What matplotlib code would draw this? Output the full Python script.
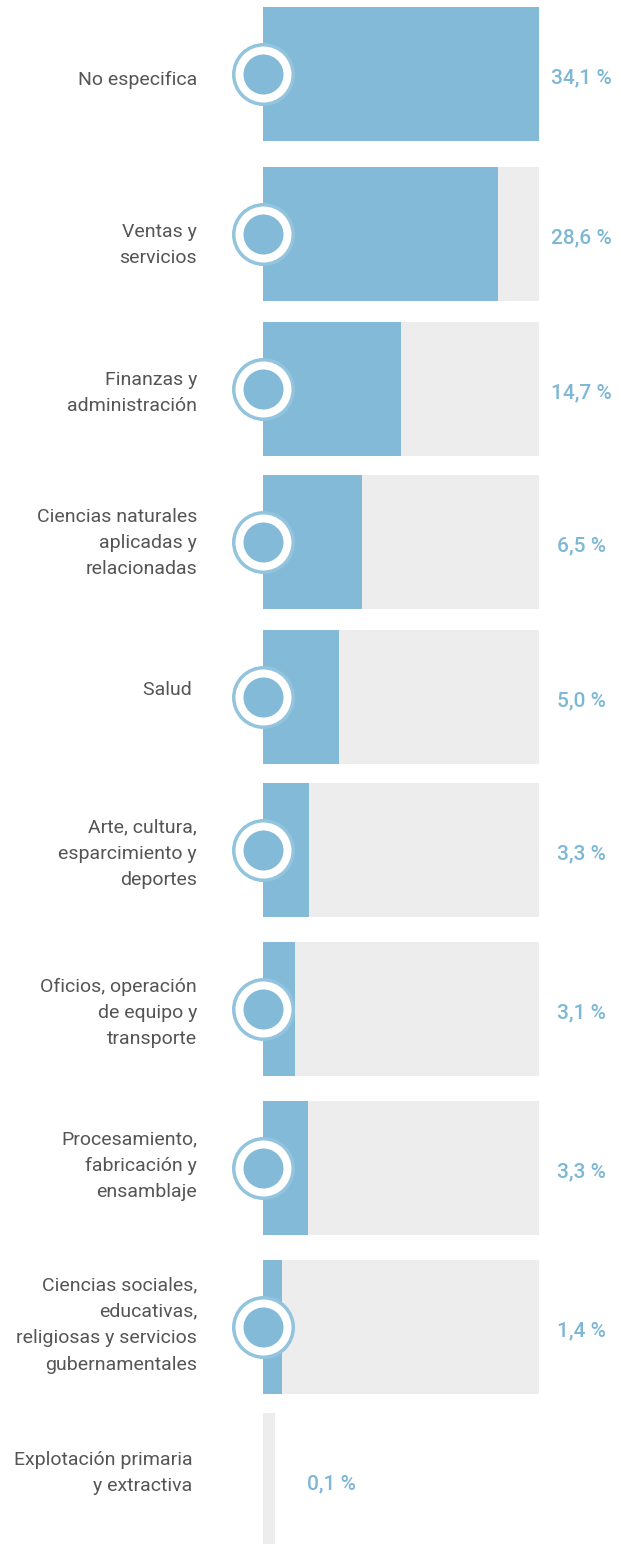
import matplotlib
matplotlib.use('Agg')
import matplotlib.pyplot as plt

plt.rcParams['font.family'] = ['Roboto', 'DejaVu Sans']

categories = [
    "No especifica",
    "Ventas y\nservicios",
    "Finanzas y\nadministración",
    "Ciencias naturales\naplicadas y\nrelacionadas",
    "Salud ",
    "Arte, cultura,\nesparcimiento y\ndeportes",
    "Oficios, operación\nde equipo y\ntransporte",
    "Procesamiento,\nfabricación y\nensamblaje",
    "Ciencias sociales,\neducativas,\nreligiosas y servicios\ngubernamentales",
    "Explotación primaria \ny extractiva ",
]
# printed percentages
pct_labels = [34.1, 28.6, 14.7, 6.5, 5.0, 3.3, 3.1, 3.3, 1.4, 0.1]
# bar fill lengths as drawn (same units as the track)
bar_fill = [34.1, 29.0, 17.05, 12.2, 9.4, 5.7, 3.95, 5.55, 2.35, 0.0]
# grey track lengths
track_len = [34.1, 34.1, 34.1, 34.1, 34.1, 34.1, 34.1, 34.1, 34.1, 1.48]

# layout (pixel rows, top edge of each bar) and label nudges
row_top = [7, 167, 322, 475, 630, 783, 942, 1101, 1260, 1413]
label_dy = [6, 11, 4, 1, -7, 4, 4, -2, -2, -7]
bar_h = 134

blue = '#82bad7'
ring = '#92c4de'
grey = '#ededed'
txt = '#555555'
pct_col = '#7db7d6'

W, H = 621, 1544
x0_px, full_px = 263, 276
full_val = 34.1
px = full_val / full_px  # data units per pixel in x

fig = plt.figure(figsize=(W / 100, H / 100), dpi=100)
ax = fig.add_axes([0, 0, 1, 1])
ax.set_xlim(-x0_px * px, (W - x0_px) * px)
ax.set_ylim(H, 0)
ax.axis('off')

centers = [t + bar_h / 2 for t in row_top]

ax.barh(centers, track_len, height=bar_h, left=0, color=grey, zorder=1)
ax.barh(centers, bar_fill, height=bar_h, left=0, color=blue, zorder=2)

for i, c in enumerate(centers):
    ax.text((197 - x0_px) * px, c + label_dy[i], categories[i], ha='right', va='center',
            fontsize=14, color=txt, linespacing=1.6)
    if i < 9:
        # circle badge on the left edge of the bar
        ax.plot(0, c, 'o', ms=2 * 31.5 * 0.72, mfc=ring, mec='none', zorder=3)
        ax.plot(0, c, 'o', ms=2 * 28 * 0.72, mfc='white', mec='none', zorder=4)
        ax.plot(0, c, 'o', ms=2 * 20 * 0.72, mfc=blue, mec='none', zorder=5)
        xl = (581 - x0_px) * px
    else:
        xl = (331 - x0_px) * px
    s = f"{pct_labels[i]:.1f}".replace('.', ',') + " %"
    ax.text(xl, c + 4, s, ha='center', va='center', fontsize=15,
            color=pct_col, fontweight='medium')

fig.savefig('out.png', dpi=100)
